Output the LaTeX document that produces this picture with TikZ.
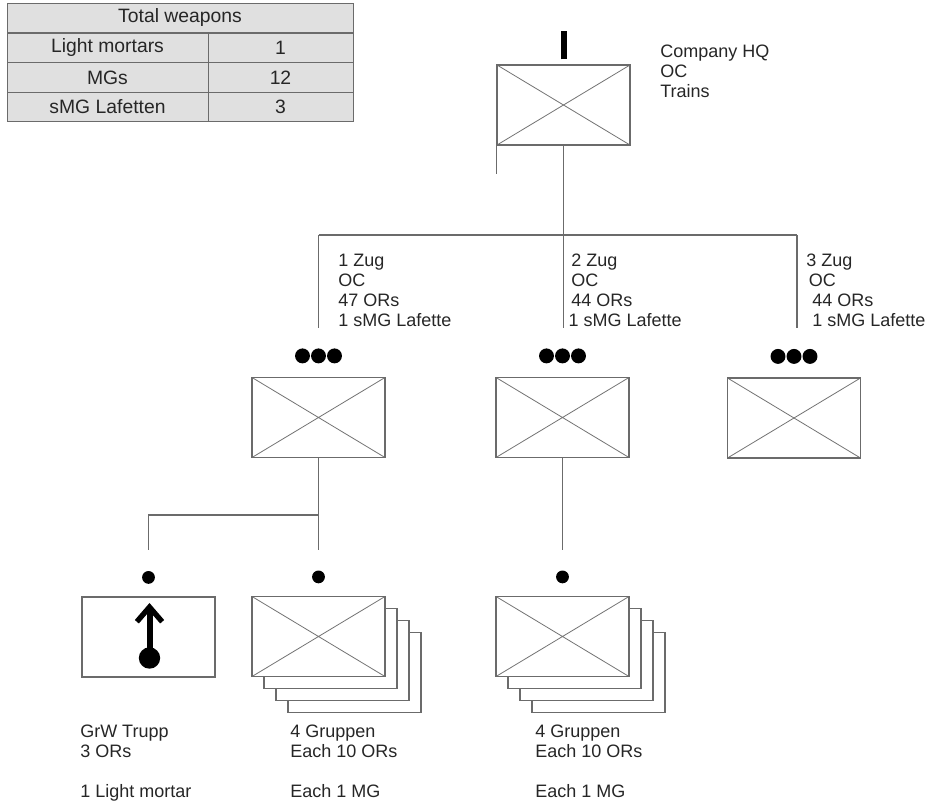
\documentclass[tikz,border=0pt]{standalone}
\usepackage{fontspec}
\setmainfont{Liberation Sans}
\usetikzlibrary{arrows.meta}
\definecolor{linegray}{gray}{0.42}
\definecolor{crossgray}{gray}{0.45}
\definecolor{tablegray}{gray}{0.88}
\definecolor{textgray}{gray}{0.15}

\begin{document}
\begin{tikzpicture}[x=0.75pt,y=-0.75pt,
  every node/.style={text=textgray, font=\fontsize{13.5}{15}\selectfont},
  link/.style={draw=linegray, line width=0.9pt},
  plainbox/.style={draw=linegray, line width=0.9pt, fill=white, minimum width=99.75pt, minimum height=60pt, inner sep=0pt},
  unitbox/.style={plainbox, path picture={\draw[crossgray, line width=0.6pt] (path picture bounding box.north west) -- (path picture bounding box.south east) (path picture bounding box.south west) -- (path picture bounding box.north east);}},
  cell/.style={draw=linegray, line width=0.7pt, fill=tablegray, minimum height=22pt, inner sep=0pt, font=\fontsize{14.5}{16}\selectfont},
  label/.style={anchor=north west, align=left, inner sep=0pt}]
\useasboundingbox (0,0) rectangle (929,803);

% weapons table
\node[cell, minimum width=259.5pt] (total) at (180,18) {Total weapons};
\node[cell, minimum width=150.75pt] (mortars) at (107.5,48) {Light mortars};
\node[cell, minimum width=108.75pt] (mortarsN) at (280.5,48) {1};
\node[cell, minimum width=150.75pt] (mgs) at (107.5,77.5) {MGs};
\node[cell, minimum width=108.75pt] (mgsN) at (280.5,77.5) {12};
\node[cell, minimum width=150.75pt] (lafetten) at (107.5,107) {sMG Lafetten};
\node[cell, minimum width=108.75pt] (lafettenN) at (280.5,107) {3};

% company
\node[unitbox] (hq) at (563.5,105) {};
\draw[line width=4.5pt] (hq.north) ++(0,-5) -- ++(0,-28);
\node[label] (hqtext) at (660,45) {Company HQ\\OC\\Trains};

\coordinate (bus1) at (318.5,235);
\coordinate (bus3) at (797,235);
\draw[link] (hq.south west) -- ++(0,28);
\draw[link] (hq.south) -- (hq.south |- bus1);
\draw[link] (bus1) -- (bus3);
\draw[link] (bus1) -- ++(0,93);
\draw[link] (hq.south |- bus1) -- ++(0,93);
\draw[link] (bus3) -- ++(0,93);

\node[label] (zug1) at (338,254) {1 Zug\\OC\\47 ORs\\1 sMG Lafette};
\node[label] (zug2) at (571,254) {2 Zug\\OC\\44 ORs\\\hspace{-2pt}1 sMG Lafette};
\node[label] (zug3) at (806,254) {3 Zug\\\hspace{2pt}OC\\\hspace{4.5pt}44 ORs\\\hspace{4.5pt}1 sMG Lafette};

% platoons
\node[unitbox] (z1) at (318.5,417.5) {};
\node[unitbox] (z2) at (562.5,417.5) {};
\node[unitbox] (z3) at (794,418) {};
\foreach \x in {-16,0,16} {
  \fill (z1.north) ++(\x,-21) circle (5.6pt);
  \fill (z2.north) ++(\x,-21) circle (5.6pt);
  \fill (z3.north) ++(\x,-21) circle (5.6pt);
}

% sections
\foreach \k in {3,2,1} {
  \node[plainbox] at (318.5+12*\k,636.5+12*\k) {};
  \node[plainbox] at (562.5+12*\k,636.5+12*\k) {};
}
\node[plainbox] (mortar) at (148.5,637) {};
\node[unitbox] (grp1) at (318.5,636.5) {};
\node[unitbox] (grp2) at (562.5,636.5) {};
\draw[line width=4.5pt, -{Straight Barb[length=11pt,width=19pt,line width=4pt]}] (149.5,650) -- (149.5,603);
\fill (149.5,658) circle (8pt);

\coordinate (fork) at (318.5,515);
\draw[link] (z1.south) -- (fork) -- ++(0,35);
\draw[link] (fork) -- (mortar.north |- fork) -- ++(0,35);
\draw[link] (z2.south) -- ++(0,92);
\foreach \n in {mortar,grp1,grp2}
  \fill (\n.north) ++(0,-19) circle (4.8pt);

\node[label] (mortartext) at (80,725) {GrW Trupp\\3 ORs\\[15pt]1 Light mortar};
\node[label] (grp1text) at (290,725) {4 Gruppen\\Each 10 ORs\\[15pt]Each 1 MG};
\node[label] (grp2text) at (535,725) {4 Gruppen\\Each 10 ORs\\[15pt]Each 1 MG};
\end{tikzpicture}
\end{document}
